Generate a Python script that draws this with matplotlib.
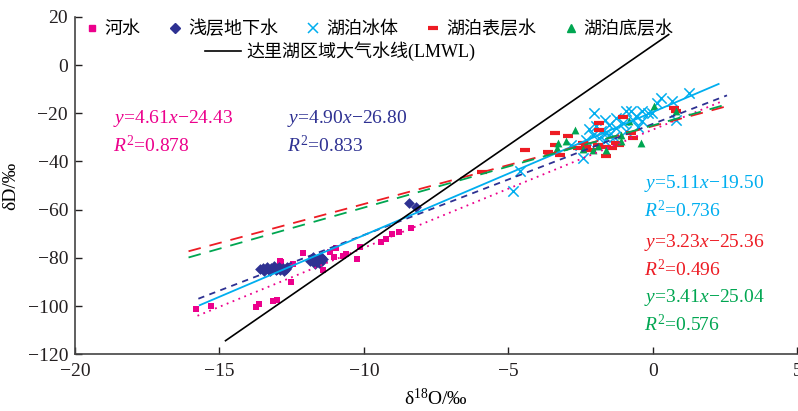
#!/usr/bin/env python3
"""
δD vs δ18O scatter for Dali Lake waters with fitted lines and LMWL.
"""

import numpy as np
import matplotlib
matplotlib.use("Agg")
import matplotlib.pyplot as plt
from matplotlib.lines import Line2D

plt.rcParams["font.family"] = ["Liberation Serif", "Noto Sans CJK SC", "DejaVu Sans"]
plt.rcParams["mathtext.fontset"] = "custom"
plt.rcParams["mathtext.rm"] = "Liberation Serif"
plt.rcParams["mathtext.it"] = "Liberation Serif:italic"

# --- data -----------------------------------------------------------------
river_x = [-15.8, -15.3, -13.73, -13.64, -13.13, -13.0, -12.52, -12.44, -13.07, -12.86,
           -12.9, -12.12, -11.41, -11.18, -11.03, -10.95, -10.72, -10.61, -10.23, -10.12,
           -9.41, -9.23, -9.04, -8.77, -8.38]
river_y = [-101.3, -99.9, -100.5, -99.2, -97.9, -97.3, -90.0, -82.6, -83.6, -81.8,
           -81.5, -78.0, -85.0, -77.6, -79.8, -75.8, -79.1, -78.2, -80.4, -75.5,
           -73.4, -72.2, -70.2, -69.1, -67.8]

ground_x = [-13.6, -13.5, -13.45, -13.35, -13.3, -13.25, -13.2, -13.1, -13.05, -13.0,
            -12.95, -12.9, -12.8, -12.75, -12.7, -12.65, -11.85, -11.75, -11.7, -11.6,
            -11.55, -11.5, -11.45, -11.4, -8.45, -8.2]
ground_y = [-84.8, -84.2, -85.3, -83.8, -84.9, -85.5, -84.1, -83.4, -85.2, -84.6,
            -83.9, -85.0, -84.3, -85.4, -84.5, -83.6, -81.2, -79.8, -82.5, -80.6,
            -82.0, -79.5, -81.4, -80.3, -57.3, -58.7]

ice_x = [1.25, 0.27, 0.16, 0.68, 0.79, -2.02, -0.93, -0.76, -0.36, -0.18,
         -0.01, -0.58, -1.27, -1.67, -1.96, -1.5, -1.27, -1.04, -1.79, -1.62,
         -2.07, -2.3, -1.67, -1.5, -2.82, -2.42, -4.6, -0.93, -0.36, -4.84,
         -1.35, -0.5, -2.2, -1.85, -0.7]
ice_y = [-11.6, -13.6, -15.7, -15.1, -22.7, -19.9, -19.2, -19.2, -19.2, -19.9,
         -19.9, -21.3, -22.0, -22.7, -25.4, -24.7, -26.1, -24.0, -27.5, -28.2,
         -28.9, -31.0, -31.7, -28.9, -33.0, -38.6, -44.1, -27.5, -23.4, -52.1,
         -29.8, -25.6, -26.5, -30.2, -23.0]

surface_x = [-5.9, -4.42, -3.39, -2.93, -2.42, -1.85, -1.85, -1.04, -0.76, -0.7,
             -1.27, -1.16, -2.13, -2.59, -1.62, -3.62, -3.22, -3.39, -1.62, 0.73,
             0.79, -2.3, -1.9, -1.4]
surface_y = [-44.3, -35.1, -28.2, -29.3, -32.3, -24.0, -26.8, -21.5, -28.2, -30.3,
             -32.3, -33.0, -35.1, -34.4, -33.8, -36.2, -37.2, -33.0, -37.9, -17.8,
             -19.2, -34.0, -33.2, -34.6]

bottom_x = [-2.7, -2.99, -3.28, -3.33, -0.81, 0.04, 0.79, -0.41, -1.62, -2.07,
            -1.1, -1.1, -1.9, -2.4]
bottom_y = [-26.8, -31.7, -32.3, -34.4, -23.4, -17.1, -19.2, -32.3, -35.1, -35.1,
            -31.7, -28.9, -33.5, -34.8]

# fitted lines: slope, intercept, x range
fit_names = ["river", "ground", "ice", "surface", "bottom"]
fit_slope = [4.90, 4.61, 5.11, 3.23, 3.41]
fit_intercept = [-26.80, -24.43, -19.50, -25.36, -25.04]
fit_xmin = [-15.76, -15.73, -15.68, -16.07, -16.07]
fit_xmax = [2.45, 2.57, 2.28, 2.74, 2.62]

lmwl_slope = 8.28
lmwl_intercept = 8.1
lmwl_range = [-14.79, 0.55]

equations = ["$y$=4.61$x$\u221224.43", "$y$=4.90$x$\u221226.80", "$y$=5.11$x$\u221219.50",
             "$y$=3.23$x$\u221225.36", "$y$=3.41$x$\u221225.04"]
r2_values = ["0.878", "0.833", "0.736", "0.496", "0.576"]

# --- styles ---------------------------------------------------------------
PINK = "#EC008C"
NAVY = "#2E3192"
CYAN = "#00AEEF"
RED = "#ED1C24"
GREEN = "#00A651"

fig = plt.figure(figsize=(7.98, 4.11), dpi=100)
ax = fig.add_axes([0.094, 0.138, 0.905, 0.821])

# fit lines
line_styles = {
    "river": dict(color=PINK, ls=(0, (1, 2.5)), lw=1.3),
    "ground": dict(color=NAVY, ls=(0, (3.5, 3)), lw=1.3),
    "ice": dict(color=CYAN, ls="-", lw=1.3),
    "surface": dict(color=RED, ls=(0, (7, 5)), lw=1.3),
    "bottom": dict(color=GREEN, ls=(0, (7, 5)), lw=1.3),
}
for name, k, b, x0, x1 in zip(fit_names, fit_slope, fit_intercept, fit_xmin, fit_xmax):
    xs = np.array([x0, x1])
    ax.plot(xs, k * xs + b, zorder=3, **line_styles[name])

xs = np.array(lmwl_range)
ax.plot(xs, lmwl_slope * xs + lmwl_intercept, color="black", lw=1.2, zorder=4)

# scatter
ax.scatter(river_x, river_y, marker="s", s=22, color=PINK, lw=0, zorder=2)
ax.scatter(ground_x, ground_y, marker="D", s=30, color=NAVY, lw=0, zorder=2)
ax.scatter(ice_x, ice_y, marker="x", s=55, color=CYAN, lw=1.1, zorder=2)
ax.scatter(surface_x, surface_y, marker="_", s=50, color=RED, lw=3, zorder=2)
ax.scatter(bottom_x, bottom_y, marker="^", s=32, color=GREEN, lw=0, zorder=2)

ax.set_xlim(-20, 5)
ax.set_ylim(-120, 20)
ax.set_xticks(np.arange(-20, 6, 5))
ax.set_yticks(np.arange(-120, 21, 20))
ax.tick_params(direction="in", length=5, width=1, labelsize=14, colors="#231F20")
ax.tick_params(axis="x", pad=6)
ax.tick_params(axis="y", pad=5)
for side in ("top", "right"):
    ax.spines[side].set_visible(False)
for side in ("left", "bottom"):
    ax.spines[side].set_linewidth(1.2)
    ax.spines[side].set_color("#444444")

ax.set_xlabel("δ$^{18}$O/‰", fontsize=14, labelpad=6)
ax.set_ylabel("δD/‰", fontsize=14, labelpad=6)

# legend
handles = [
    Line2D([], [], marker="s", ms=4.5, color=PINK, ls="none"),
    Line2D([], [], marker="D", ms=5, color=NAVY, ls="none"),
    Line2D([], [], marker="x", ms=7, mew=1.1, color=CYAN, ls="none"),
    Line2D([], [], marker="_", ms=7, mew=3, color=RED, ls="none"),
    Line2D([], [], marker="^", ms=6, color=GREEN, ls="none"),
]
labels = ["河水", "浅层地下水", "湖泊冰体", "湖泊表层水", "湖泊底层水"]
leg1 = ax.legend(handles, labels, ncol=5, loc="center left", bbox_to_anchor=(0.013, 0.963),
                 frameon=False, fontsize=13, handlelength=0.8, handletextpad=0.3,
                 columnspacing=1.55, borderaxespad=0, borderpad=0)
ax.add_artist(leg1)
ax.legend([Line2D([], [], color="black", lw=1.2)], ["达里湖区域大气水线(LMWL)"],
          loc="center left", bbox_to_anchor=(0.18, 0.897), frameon=False, fontsize=13,
          handlelength=2.0, handletextpad=0.3, borderaxespad=0, borderpad=0)

# equations
eq_pos = [(-18.69, -22), (-12.65, -22), (-0.31, -49), (-0.31, -73.5), (-0.31, -96.3)]
eq_colors = [PINK, NAVY, CYAN, RED, GREEN]
for (ex, ey), eq, r2, c in zip(eq_pos, equations, r2_values, eq_colors):
    ax.text(ex, ey, eq, color=c, fontsize=14, va="center", ha="left")
    ax.text(ex, ey - 11.2, "$R^2$=" + r2, color=c, fontsize=14, va="center", ha="left")

fig.savefig("out.png", dpi=100)
